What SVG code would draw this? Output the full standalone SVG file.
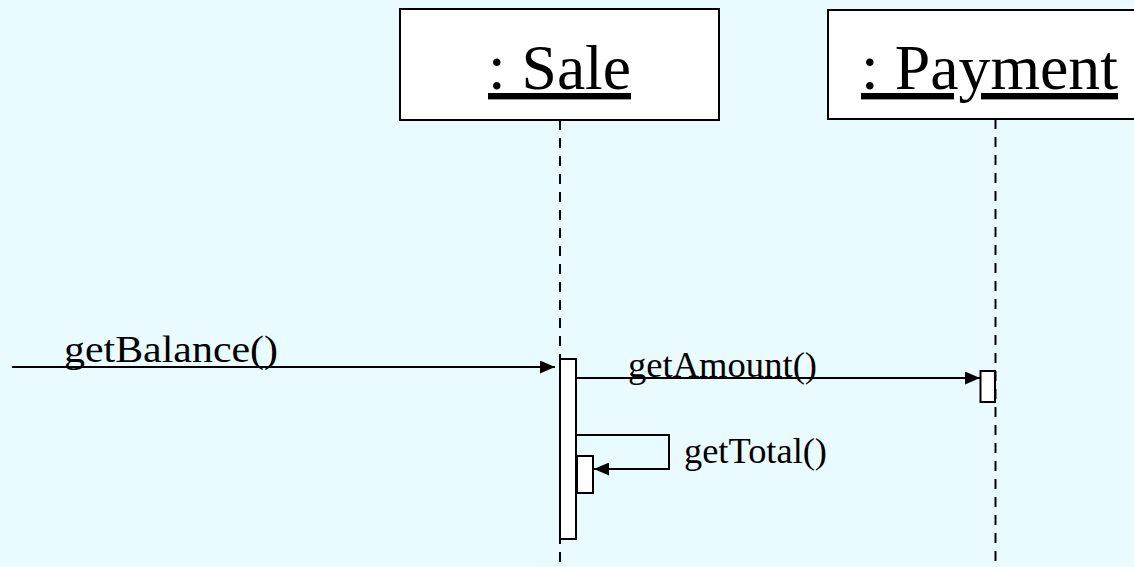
<svg xmlns="http://www.w3.org/2000/svg" width="1134" height="567" viewBox="0 0 1134 567">
  <style>
    .obj { fill: #ffffff; stroke: #000000; stroke-width: 2; }
    .title { font-family: "Liberation Serif", "Times New Roman", serif; font-size: 64px; fill: #000000; text-decoration: underline; }
    .lifeline { stroke: #000000; stroke-width: 2; stroke-dasharray: 10 8; fill: none; }
    .act { fill: #ffffff; stroke: #000000; stroke-width: 2; }
    .msg { stroke: #000000; stroke-width: 2; fill: none; }
    .label { font-family: "Liberation Serif", "Times New Roman", serif; fill: #000000; }
  </style>
  <defs>
    <marker id="arrow" viewBox="0 0 15 13" refX="15" refY="6.5" markerWidth="15" markerHeight="13" markerUnits="userSpaceOnUse" orient="auto">
      <path d="M0,0 L15,6.5 L0,13 Z" fill="#000000"/>
    </marker>
  </defs>

  <rect width="1134" height="567" fill="#E9FBFE"/>

  <!-- object heads with lifelines -->
  <g id="sale">
    <line class="lifeline" x1="560" y1="120" x2="560" y2="567"/>
    <rect class="obj" x="400" y="9" width="319" height="111"/>
    <text class="title" x="559.5" y="89" text-anchor="middle" textLength="143" lengthAdjust="spacingAndGlyphs">: Sale</text>
  </g>
  <g id="payment">
    <line class="lifeline" x1="995.5" y1="119" x2="995.5" y2="567"/>
    <rect class="obj" x="828" y="10" width="320" height="109"/>
    <text class="title" x="989.5" y="89" text-anchor="middle" textLength="257" lengthAdjust="spacingAndGlyphs">: Payment</text>
  </g>

  <!-- execution occurrences -->
  <g id="sale-activation">
    <rect class="act" x="560" y="359" width="16" height="180"/>
  </g>
  <g id="sale-nested-activation">
    <rect class="act" x="577" y="456" width="16" height="37"/>
  </g>
  <g id="payment-activation">
    <rect class="act" x="980.5" y="371" width="14.5" height="31"/>
  </g>

  <!-- messages -->
  <g id="connectors">
    <line class="msg" x1="12" y1="367" x2="555" y2="367" marker-end="url(#arrow)"/>
    <line class="msg" x1="576" y1="378" x2="980" y2="378" marker-end="url(#arrow)"/>
    <polyline class="msg" points="576,435 669,435 669,469 594,469" marker-end="url(#arrow)"/>
  </g>

  <g id="message-labels">
    <text class="label" x="64" y="362" font-size="38" textLength="214" lengthAdjust="spacingAndGlyphs">getBalance()</text>
    <text class="label" x="628" y="377" font-size="35" textLength="189" lengthAdjust="spacingAndGlyphs">getAmount()</text>
    <text class="label" x="684" y="463" font-size="35" textLength="143" lengthAdjust="spacingAndGlyphs">getTotal()</text>
  </g>
</svg>
